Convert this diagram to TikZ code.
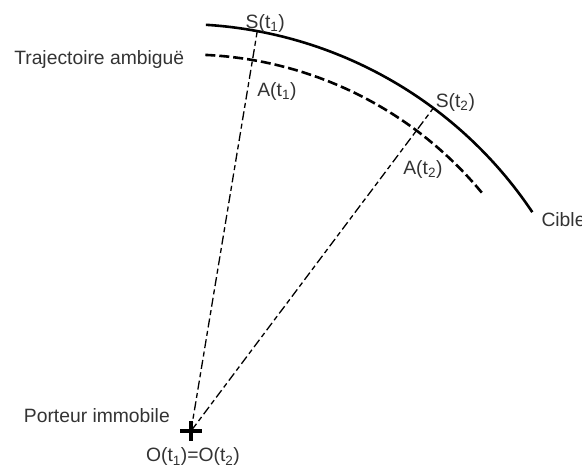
\documentclass[tikz,border=0pt]{standalone}
\usepackage{fontspec}
\setmainfont{Liberation Sans}
\usetikzlibrary{calc}

\begin{document}
\begin{tikzpicture}[
  x=1pt, y=1pt,
  font=\fontsize{19.3}{23}\selectfont,
  lbl/.style={text=black!80, inner sep=0pt},
  cible/.style={line width=2.6pt},
  ambigu/.style={line width=2.6pt, dash pattern=on 10pt off 4pt},
  visee/.style={line width=1.3pt, dash pattern=on 9pt off 3.5pt on 5pt off 3.5pt},
  croix/.style={line width=3.5pt}
]
\useasboundingbox (0,0) rectangle (582,468);
\coordinate (Cc) at (180,20);
\coordinate (Ca) at (188,32);
\coordinate (O) at (191,37);
\coordinate (S1) at ($(Cc)+(79.5:424)$);
\coordinate (S2) at ($(Cc)+(53.3:424)$);
\coordinate (A1) at ($(O)!0.927!(S1)$);
\coordinate (A2) at ($(O)!0.932!(S2)$);
\draw[cible] ($(Cc)+(86.5:424)$) coordinate (c0) arc[start angle=86.5, end angle=33.8, radius=424] coordinate (c1);
\draw[ambigu] ($(Ca)+(87.4:381.5)$) coordinate (a0) arc[start angle=87.4, end angle=39.6, radius=381.5] coordinate (a1);
\draw[visee] (O) -- (S1);
\draw[visee] (O) -- (S2);
\draw[croix] ($(O)+(-11,0)$) -- ($(O)+(11,0)$) ($(O)+(0,-10)$) -- ($(O)+(0,10)$);
\node[lbl] (s1) at ($(S1)+(8,8)$) {S(t\textsubscript{1})};
\node[lbl] (s2) at ($(S2)+(22,6)$) {S(t\textsubscript{2})};
\node[lbl] (a1l) at ($(A1)+(24.5,-31)$) {A(t\textsubscript{1})};
\node[lbl] (a2l) at ($(A2)+(6,-39)$) {A(t\textsubscript{2})};
\node[lbl, anchor=base east] (traj) at ($(a0)+(-21,-10)$) {Trajectoire ambiguë};
\node[lbl, anchor=base west] (cib) at ($(c1)+(9,-14.6)$) {Cible};
\node[lbl, anchor=base east] (port) at ($(O)+(-21,8)$) {Porteur immobile};
\node[lbl, anchor=base] (oo) at ($(O)+(2,-31)$) {O(t\textsubscript{1})=O(t\textsubscript{2})};
\end{tikzpicture}
\end{document}
